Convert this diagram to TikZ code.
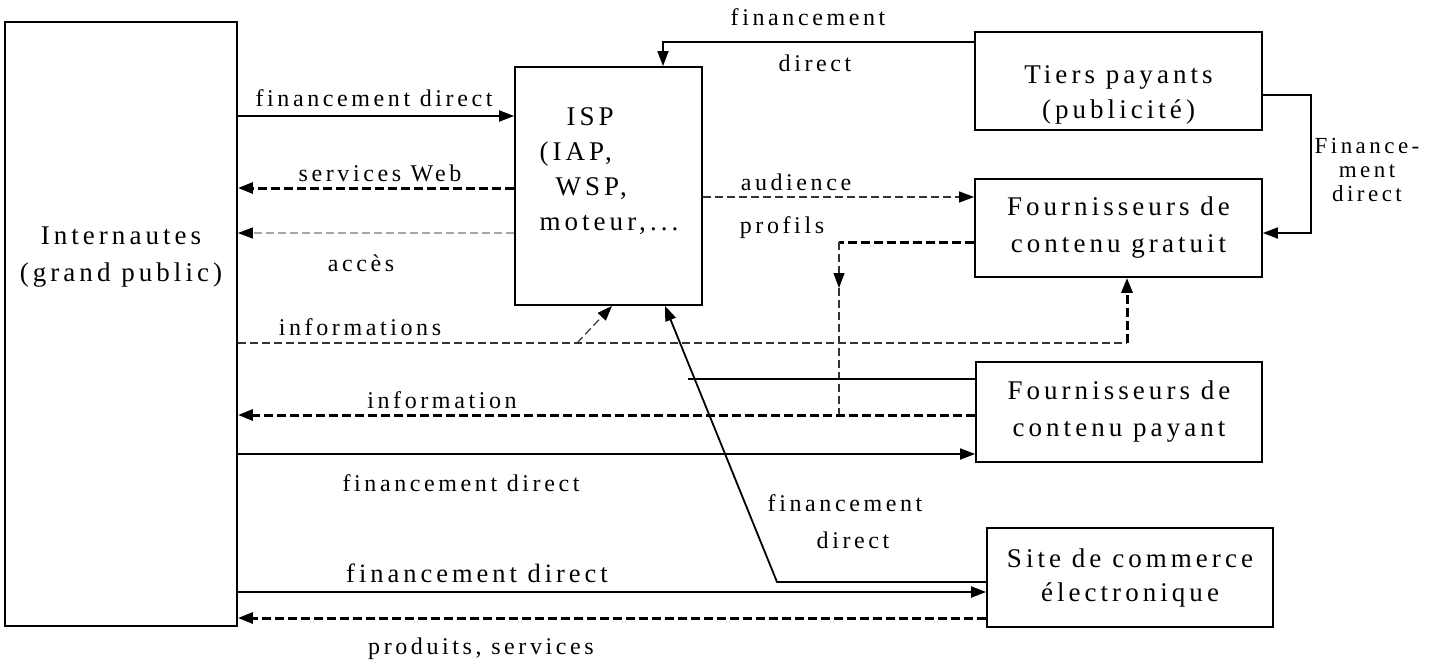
\documentclass[tikz,border=0pt]{standalone}
\usepackage{fontspec}
\setmainfont{Liberation Serif}
\newfontfamily\spaced[LetterSpace=15]{Liberation Serif}
\usetikzlibrary{arrows.meta}
\tikzset{
  box/.style={draw, line width=1.8pt, inner sep=0pt},
  btxt/.style={font=\spaced\fontsize{27}{37}\selectfont, align=center},
  lab/.style={font=\spaced\fontsize{24}{26}\selectfont, inner sep=0pt},
  biglab/.style={font=\spaced\fontsize{26.5}{30}\selectfont, inner sep=0pt},
  arr/.style={-{Triangle[length=15pt,width=11pt,color=black]}},
  sline/.style={line width=1.8pt},
  thickdash/.style={line width=3pt, dash pattern=on 9pt off 4pt},
  thindash/.style={line width=1.2pt, black!80, dash pattern=on 8pt off 4pt},
  graydash/.style={line width=1.2pt, black!35, dash pattern=on 8pt off 4pt}
}
\begin{document}
\begin{tikzpicture}[x=1pt,y=-1pt]
\useasboundingbox (0,0) rectangle (1437,664);
% boxes
\node[box, minimum width=232pt, minimum height=604pt] (inter) at (121,324) {};
\node[btxt] (intertxt) at (121,257) {Internautes\\(grand public)};
\node[box, minimum width=187pt, minimum height=238pt] (isp) at (608.5,186) {};
\node[btxt, align=left, anchor=west, font=\spaced\fontsize{27}{35}\selectfont] (isptxt) at (536,171) {\hspace*{27pt}ISP\\(IAP,\\\hspace*{16pt}WSP,\\moteur,...};
\node[box, minimum width=287pt, minimum height=98pt] (tiers) at (1118.5,81) {};
\node[btxt, font=\spaced\fontsize{27}{35}\selectfont] (tierstxt) at (1118.5,95) {Tiers payants\\(publicité)};
\node[box, btxt, minimum width=287pt, minimum height=98pt] (grat) at (1118.5,228) {Fournisseurs de\\contenu gratuit};
\node[box, btxt, minimum width=286pt, minimum height=100pt] (pay) at (1119,412) {Fournisseurs de\\contenu payant};
\node[box, btxt, minimum width=286pt, minimum height=99pt, font=\spaced\fontsize{27}{34}\selectfont] (site) at (1130,577.5) {Site de commerce\\électronique};

% coordinates
\coordinate (tA) at (tiers.west |- 0,42);
\coordinate (tB) at (663,42);
\coordinate (tC) at (1311,95);
\coordinate (tD) at (1311,233);
\coordinate (pj) at (839,242);
\coordinate (pm) at (839,288);
\coordinate (pk) at (839,415);
\coordinate (ia) at (inter.east |- 0,343);
\coordinate (ib) at (1127,343);
\coordinate (ic) at (577,343);
\coordinate (sd) at (777,582);
\coordinate (py) at (688,379);

% connectors
\draw[sline, arr] (tA) -- (tB) -- (tB |- isp.north);
\draw[sline, arr] (tiers.east |- 0,95) -- (tC) -- (tD) -- (grat.east |- tD);
\draw[sline, arr] (inter.east |- 0,116) -- (isp.west |- 0,116);
\draw[thickdash, arr] (isp.west |- 0,188) -- (inter.east |- 0,188);
\draw[graydash, arr] (isp.west |- 0,233) -- (inter.east |- 0,233);
\draw[thindash, arr] (isp.east |- 0,197) -- (grat.west |- 0,197);
\draw[thickdash] (grat.west |- pj) -- (pj);
\draw[thindash, arr] (pj) -- (pm);
\draw[thindash] (pm) -- (pk);
\draw[thindash] (ia) -- (ib);
\draw[thickdash, arr] (ib) -- (ib |- grat.south);
\draw[thindash, arr] (ic) -- (612,0 |- isp.south);
\draw[thickdash, arr] (pay.west |- pk) -- (inter.east |- pk);
\draw[sline] (pay.west |- py) -- (py);
\draw[sline, arr] (inter.east |- 0,454) -- (pay.west |- 0,454);
\draw[sline, arr] (site.west |- sd) -- (sd) -- (665,0 |- isp.south);
\draw[sline, arr] (inter.east |- 0,592) -- (site.west |- 0,592);
\draw[thickdash, arr] (site.west |- 0,618) -- (inter.east |- 0,618);

% labels
\node[lab] (l1) at (808,17) {financement};
\node[lab] (l2) at (815,63) {direct};
\node[lab, align=center, font=\spaced\fontsize{23}{24}\selectfont] (l3) at (1367,170) {Finance-\\ment\\direct};
\node[lab] (l4) at (374,98) {financement direct};
\node[lab] (l5) at (380,173) {services Web};
\node[lab] (l6) at (361,263) {accès};
\node[lab] (l7) at (796,182) {audience};
\node[lab] (l8) at (782,228) {profils};
\node[lab] (l9) at (360,327) {informations};
\node[lab] (l10) at (442,400) {information};
\node[lab] (l11) at (461,483) {financement direct};
\node[lab] (l12) at (845,503) {financement};
\node[lab] (l13) at (853,540) {direct};
\node[biglab] (l14) at (477,573) {financement direct};
\node[lab] (l15) at (481,649) {produits, services};
\end{tikzpicture}
\end{document}
